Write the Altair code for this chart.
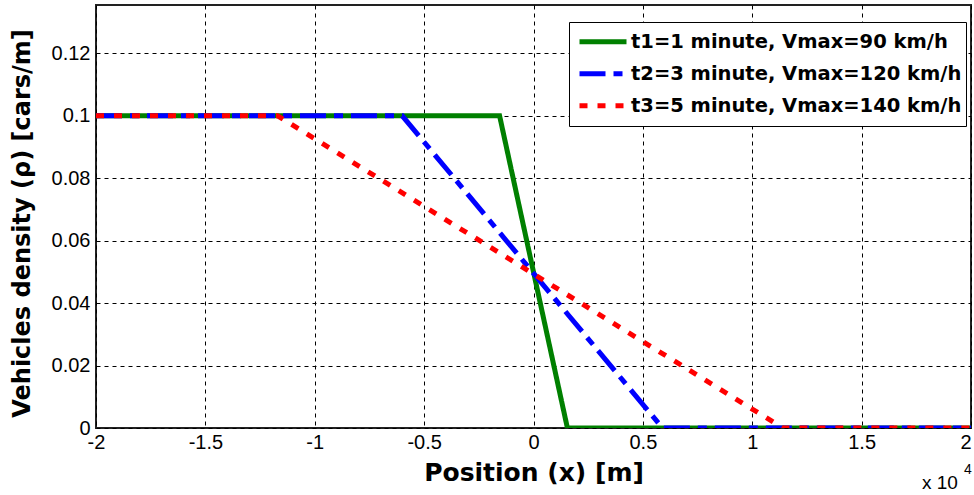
import altair as alt
import pandas as pd

series_names = ["t1=1 minute, Vmax=90 km/h", "t2=3 minute, Vmax=120 km/h", "t3=5 minute, Vmax=140 km/h"]
colors = ["#008000", "#0000ff", "#ff0000"]
dashes = [[1, 0], [26, 8, 9, 8], [8, 10]]

# positions in metres, density in cars/m
x_t1 = [-20000, -1550, 1550, 20000]
rho_t1 = [0.1, 0.1, 0.0, 0.0]
x_t2 = [-20000, -6000, 5900, 20000]
rho_t2 = [0.1, 0.1, 0.0, 0.0]
x_t3 = [-20000, -11700, 11400, 20000]
rho_t3 = [0.1, 0.1, 0.0, 0.0]

x_ticks = [-20000, -15000, -10000, -5000, 0, 5000, 10000, 15000, 20000]
y_ticks = [0, 0.02, 0.04, 0.06, 0.08, 0.1, 0.12]

rows = []
for name, xs, ys in zip(series_names, [x_t1, x_t2, x_t3], [rho_t1, rho_t2, rho_t3]):
    for i, (a, b) in enumerate(zip(xs, ys)):
        rows.append({"series": name, "x": a, "rho": b, "i": i})
df = pd.DataFrame(rows)

font = "Liberation Sans"
wide = "DejaVu Sans"

xenc = alt.X("x:Q", scale=alt.Scale(domain=[-20000, 20000], nice=False),
             axis=alt.Axis(values=x_ticks, labelExpr="datum.value / 10000 + ''",
                           labelAlign=alt.ExprRef(expr="datum.value == 20000 ? 'right' : 'center'"),
                           title="Position (x) [m]", titleFontSize=25, titleFontWeight="bold",
                           titleFont=wide, titlePadding=8, labelFontSize=20, labelPadding=4,
                           labelFlush=False,
                           grid=True, gridColor="black", gridDash=[4, 4], gridWidth=1,
                           gridOpacity=1, ticks=False, domain=False))
yenc = alt.Y("rho:Q", scale=alt.Scale(domain=[0, 0.1355], nice=False),
             axis=alt.Axis(values=y_ticks, format=".2~f",
                           title="Vehicles density (ρ) [cars/m]", titleFontSize=24,
                           titleFont=wide, titleFontWeight="bold", titleX=-62, titleY=218,
                           labelFontSize=20, labelPadding=6, labelFlush=False,
                           grid=True, gridColor="black", gridDash=[4, 4], gridWidth=1,
                           gridOpacity=1, ticks=False, domain=False))

color = alt.Color("series:N", scale=alt.Scale(domain=series_names, range=colors),
                  legend=alt.Legend(title=None, orient="none", legendX=473, legendY=17,
                                    symbolType="stroke", symbolSize=2209, symbolStrokeWidth=5,
                                    symbolOffset=4, clipHeight=31.5,
                                    labelFontSize=19.5, labelFont=wide, labelFontWeight="bold",
                                    labelColor="black", labelExpr="datum.label + ' '",
                                    rowPadding=0, padding=4, strokeColor="black",
                                    fillColor="white", labelOffset=2, labelLimit=500))
dash = alt.StrokeDash("series:N", scale=alt.Scale(domain=series_names, range=dashes))

layers = []
for name in series_names:
    layers.append(
        alt.Chart(df).transform_filter(alt.datum.series == name)
        .mark_line(strokeWidth=5, strokeCap="butt", clip=True)
        .encode(x=xenc, y=yenc, color=color, strokeDash=dash, order="i:Q")
    )

exp_base = alt.Chart(pd.DataFrame({"t": ["x 10"]})).mark_text(
    font=font, fontSize=19, align="left", baseline="middle", color="black"
).encode(text="t:N", x=alt.value(826), y=alt.value(478))
exp_sup = alt.Chart(pd.DataFrame({"t": ["4"]})).mark_text(
    font=font, fontSize=14, align="left", baseline="middle", color="black"
).encode(text="t:N", x=alt.value(868), y=alt.value(465))

chart = alt.layer(*layers, exp_base, exp_sup).properties(
    width=875, height=423,
    autosize=alt.AutoSizeParams(type="none"),
    padding={"left": 96, "top": 5, "right": 3, "bottom": 67},
).configure(font=font).configure_view(
    stroke="#222222", strokeWidth=2
).configure_axis(labelColor="black", titleColor="black", labelFont=font, titleFont=font)

chart.save("out.html", embed_options={"renderer": "svg", "actions": False})
